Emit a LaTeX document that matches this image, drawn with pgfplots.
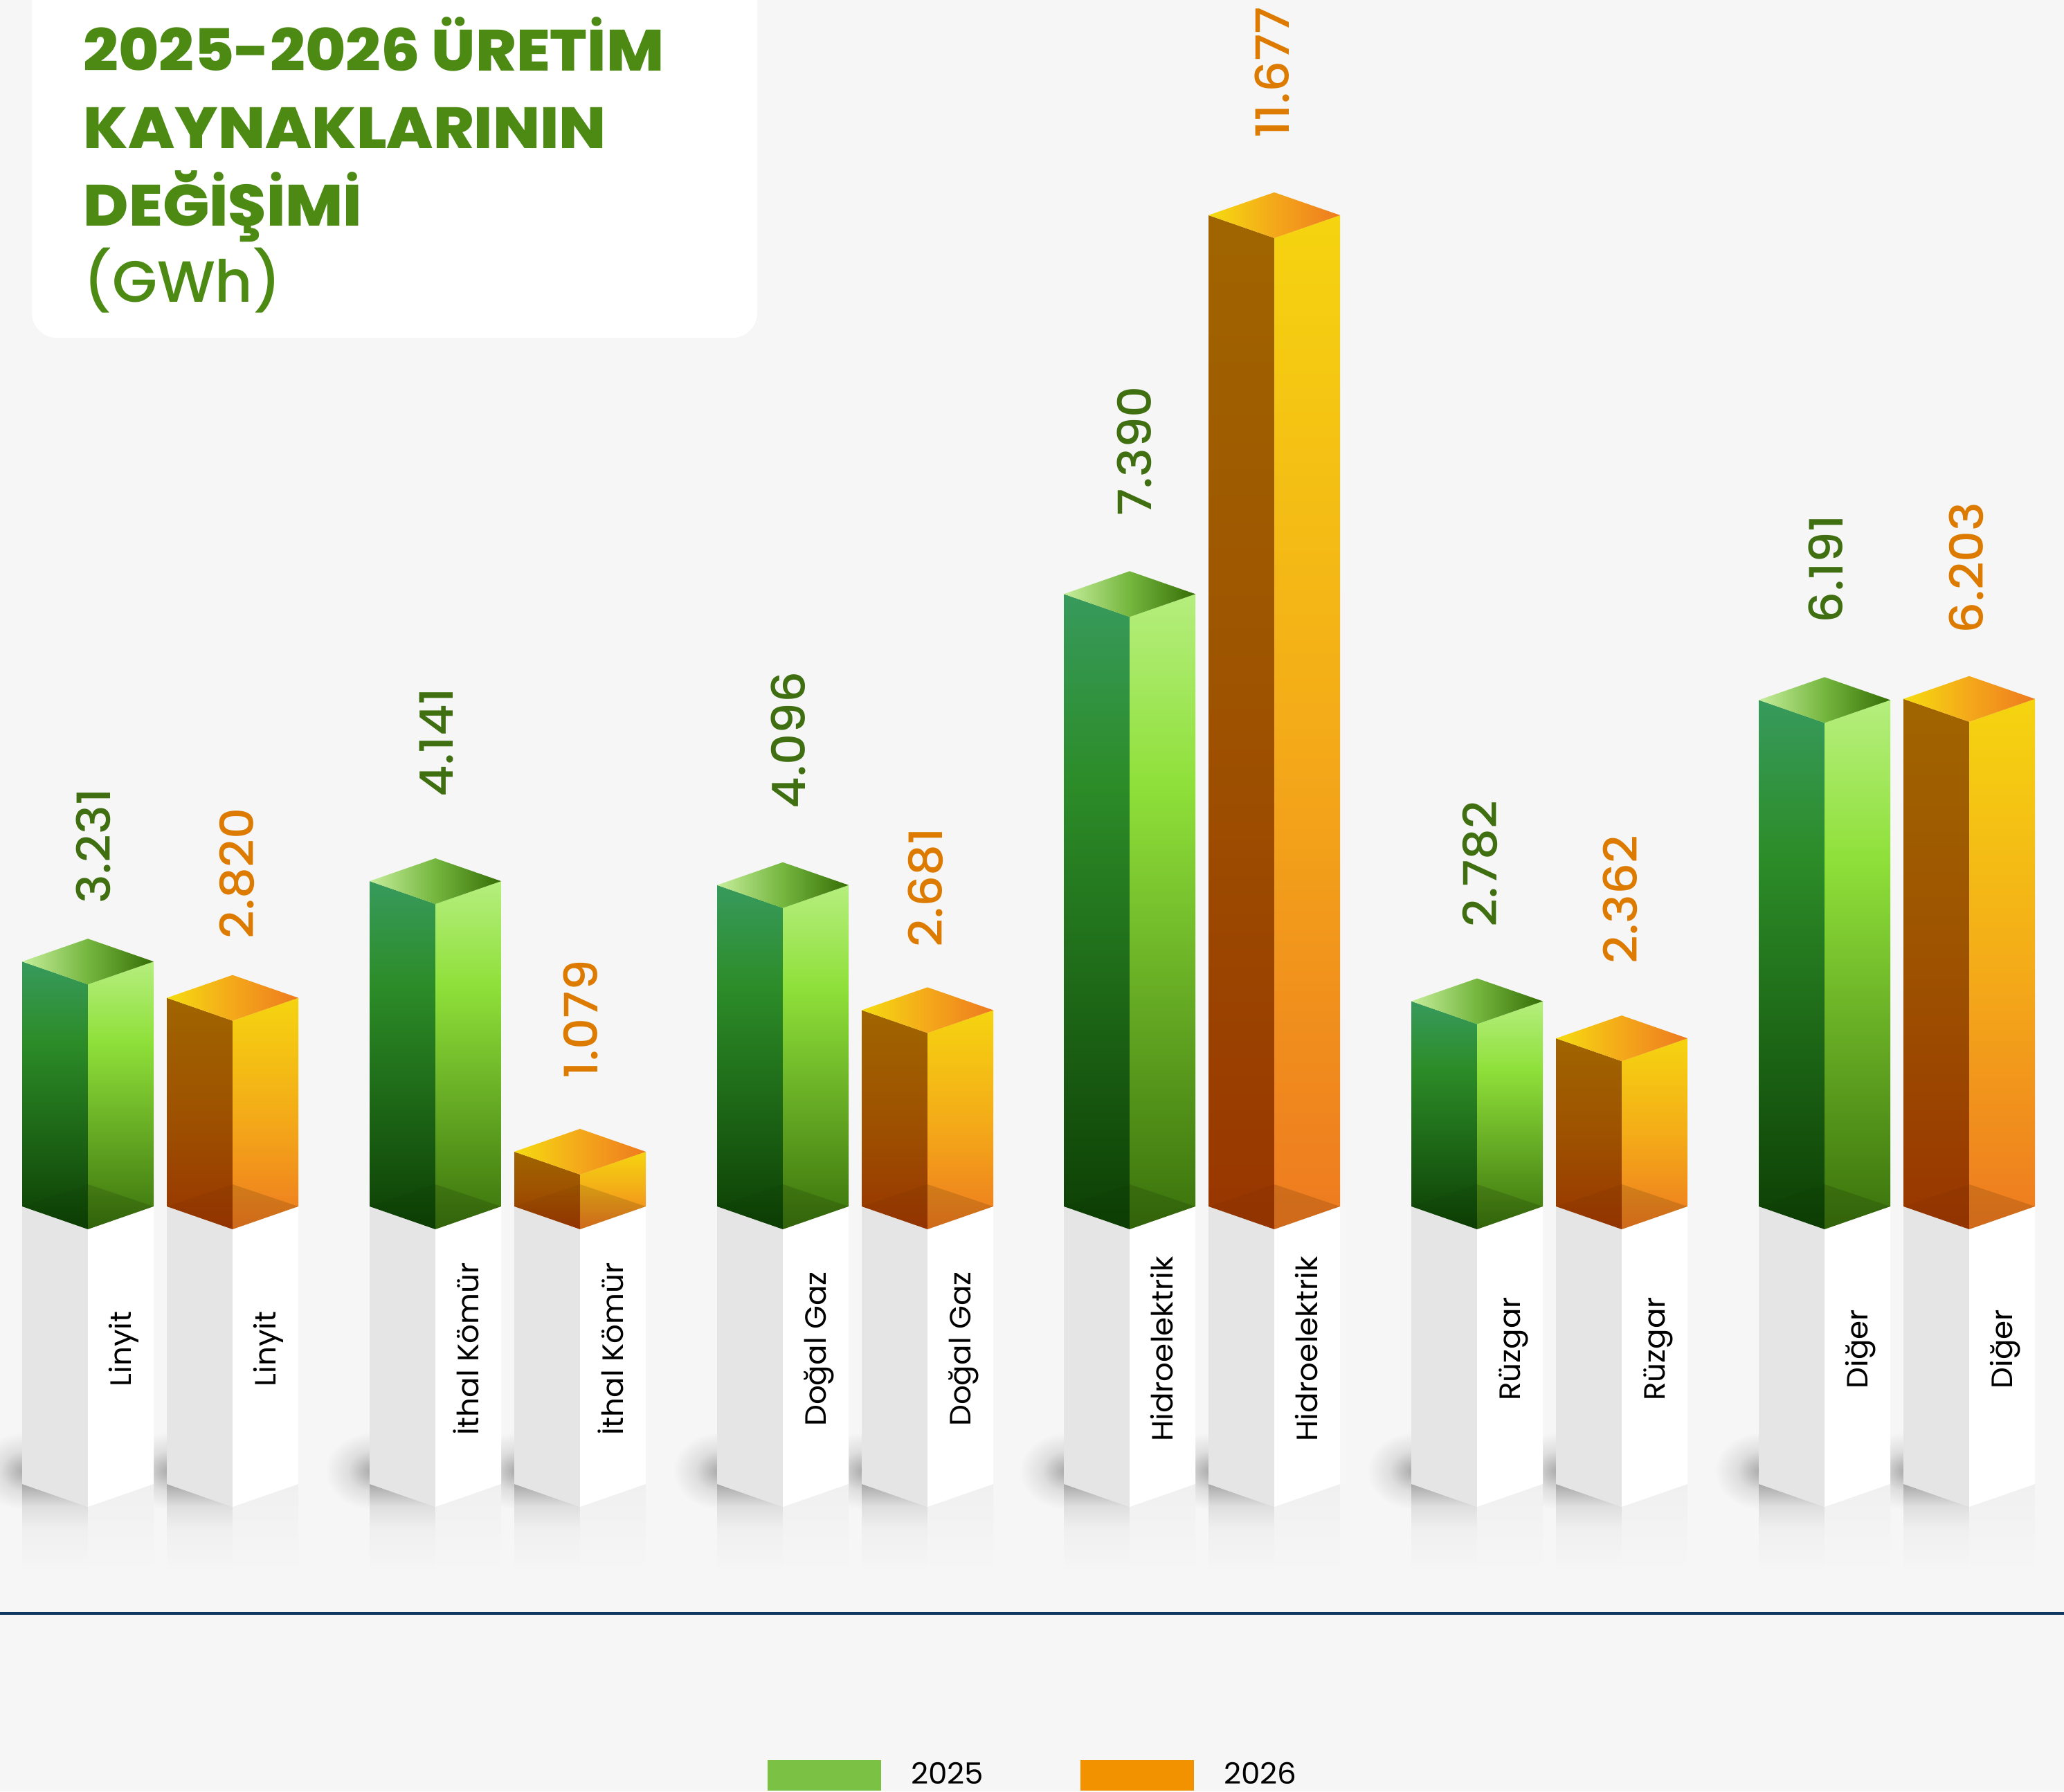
\documentclass[border=0pt]{standalone}
\usepackage{fontspec}
\usepackage{pgfplots}
\pgfplotsset{compat=1.18}
\setmainfont{Poppins}[FakeStretch=1.03]
\newfontfamily\titlef{Poppins ExtraBold}[FakeStretch=1.06]
\newfontfamily\medf{Poppins Medium}[FakeStretch=1.06]
\newfontfamily\unitf{Poppins Medium}
\definecolor{bg}{HTML}{F6F6F6}
\definecolor{titlec}{HTML}{4C8A14}
\definecolor{gnum}{HTML}{3F6F10}
\definecolor{onum}{HTML}{DC7B00}
\definecolor{navy}{HTML}{10375F}
\definecolor{leggreen}{HTML}{7BC143}
\definecolor{legorange}{HTML}{F39200}
% green faces
\definecolor{gla}{HTML}{379A5C}\definecolor{glb}{HTML}{2C8C28}\definecolor{glc}{HTML}{0D3F04}
\definecolor{gra}{HTML}{B5EE7E}\definecolor{grb}{HTML}{8FE03A}\definecolor{grc}{HTML}{3A720C}
\definecolor{gta}{HTML}{C6EE9C}\definecolor{gtb}{HTML}{74B63E}\definecolor{gtc}{HTML}{356E06}
% orange faces
\definecolor{ola}{HTML}{A06500}\definecolor{olb}{HTML}{9E5200}\definecolor{olc}{HTML}{983600}
\definecolor{ora}{HTML}{F5D410}\definecolor{orb}{HTML}{F4AC18}\definecolor{orc}{HTML}{EE7A20}
\definecolor{ota}{HTML}{F5DC10}\definecolor{otb}{HTML}{F4A81A}\definecolor{otc}{HTML}{EE7A20}
\definecolor{shd}{HTML}{A8A8A8}\definecolor{shb}{HTML}{BCBCBC}\definecolor{shc}{HTML}{DEDEDE}
\definecolor{sa}{HTML}{DFDFDF}\definecolor{sb}{HTML}{EFEFEF}\definecolor{sc}{HTML}{F0F0F0}
\pgfdeclareverticalshading{gl}{100bp}{color(0bp)=(glc);color(25bp)=(glc);color(60bp)=(glb);color(75bp)=(gla);color(100bp)=(gla)}
\pgfdeclareverticalshading{gr}{100bp}{color(0bp)=(grc);color(25bp)=(grc);color(60bp)=(grb);color(75bp)=(gra);color(100bp)=(gra)}
\pgfdeclarehorizontalshading{gt}{100bp}{color(0bp)=(gta);color(25bp)=(gta);color(50bp)=(gtb);color(75bp)=(gtc);color(100bp)=(gtc)}
\pgfdeclareverticalshading{ol}{100bp}{color(0bp)=(olc);color(25bp)=(olc);color(50bp)=(olb);color(75bp)=(ola);color(100bp)=(ola)}
\pgfdeclareverticalshading{or}{100bp}{color(0bp)=(orc);color(25bp)=(orc);color(50bp)=(orb);color(75bp)=(ora);color(100bp)=(ora)}
\pgfdeclarehorizontalshading{ot}{100bp}{color(0bp)=(ota);color(25bp)=(ota);color(50bp)=(otb);color(75bp)=(otc);color(100bp)=(otc)}
\pgfdeclareradialshading{softr}{\pgfpointorigin}{color(0bp)=(shd);color(5bp)=(shb);color(13bp)=(shc);color(25bp)=(bg);color(50bp)=(bg)}
\pgfdeclareverticalshading{refll}{100bp}{color(0bp)=(bg);color(25bp)=(bg);color(50bp)=(sb);color(62.5bp)=(sa);color(75bp)=(shd);color(100bp)=(shd)}
\pgfdeclareverticalshading{reflr}{100bp}{color(0bp)=(bg);color(25bp)=(bg);color(75bp)=(sc);color(100bp)=(sc)}
\pgfplotsset{swatchg/.style={legend image code/.code={\path[draw=none,fill=leggreen] (0pt,-5.5pt) rectangle (41pt,5.5pt);}},
  swatcho/.style={legend image code/.code={\path[draw=none,fill=legorange] (0pt,-5.5pt) rectangle (41pt,5.5pt);}}}
% pedestal: #1 left edge in pixels
\newcommand\soft[1]{\shade[shading=softr] (axis cs:{#1+4},2125) ellipse [x radius=17pt,y radius=14pt];}
\newcommand\refl[1]{%
  \pgfmathsetmacro\xc{#1+95}\pgfmathsetmacro\xr{#1+190}%
  \addplot[draw=none,shading=refll,forget plot] coordinates {(#1,2144) (\xc,2177) (\xc,2272) (#1,2272)} -- cycle;
  \addplot[draw=none,shading=reflr,forget plot] coordinates {(\xc,2177) (\xr,2144) (\xr,2272) (\xc,2272)} -- cycle;}
\newcommand\ped[2]{%
  \pgfmathsetmacro\xc{#1+95}\pgfmathsetmacro\xr{#1+190}%
  \addplot[draw=none,fill=black!10!white,forget plot] coordinates {(#1,1740) (\xc,1740) (\xc,2177) (#1,2144)} -- cycle;
  \addplot[draw=none,fill=white,forget plot] coordinates {(\xc,1740) (\xr,1740) (\xr,2144) (\xc,2177)} -- cycle;
  \node[rotate=90,anchor=base,inner sep=0pt,font=\fontsize{10.6}{12}\selectfont] at (axis cs:{#1+157},1949) {#2};}
% 3D bar: #1 left edge in pixels, #2 value in GWh, #3 prefix of the shadings
\newcommand\tdbar[3]{%
  \pgfmathsetmacro\xc{#1+95}\pgfmathsetmacro\xr{#1+190}%
  \pgfmathsetmacro\yf{#2-258.5}\pgfmathsetmacro\yb{#2+258.5}%
  \addplot[draw=none,shading=#3l,forget plot] coordinates {(#1,#2) (\xc,\yf) (\xc,201.5) (#1,460)} -- cycle;
  \addplot[draw=none,shading=#3r,forget plot] coordinates {(\xc,\yf) (\xr,#2) (\xr,460) (\xc,201.5)} -- cycle;
  \addplot[draw=none,shading=#3t,forget plot] coordinates {(#1,#2) (\xc,\yb) (\xr,#2) (\xc,\yf)} -- cycle;
  \addplot[draw=none,fill=black,fill opacity=0.04,forget plot] coordinates {(#1,460) (\xc,710) (\xc,201.5)} -- cycle;
  \addplot[draw=none,fill=black,fill opacity=0.13,forget plot] coordinates {(\xc,710) (\xr,460) (\xc,201.5)} -- cycle;}
\newcommand\val[4]{\node[rotate=90,anchor=west,inner sep=0pt,text=#4,xshift=-1.2pt,font=\fontsize{16.6}{20}\selectfont\medf] at (axis cs:#1,#2) {#3};}
\begin{document}
\begin{tikzpicture}
\useasboundingbox (0,0) rectangle (745.5pt,647pt);
\clip (0,0) rectangle (745.5pt,647pt);
\fill[bg] (0,0) rectangle (745.5pt,647pt);
\begin{axis}[at={(0,0)},anchor=south west,scale only axis,width=745.5pt,height=647pt,
  xmin=0,xmax=2982,ymin=0,ymax=2588,y dir=reverse,axis lines=none,clip=false]
\fill[white,rounded corners=9pt] (axis cs:46,-100) rectangle (axis cs:1094,488);
\node[anchor=base west,inner sep=0pt,text=titlec,font=\fontsize{21}{24}\selectfont\titlef] at (axis cs:120,103) {2025-2026 ÜRETİM};
\node[anchor=base west,inner sep=0pt,text=titlec,font=\fontsize{21}{24}\selectfont\titlef] at (axis cs:120,215) {KAYNAKLARININ};
\node[anchor=base west,inner sep=0pt,text=titlec,font=\fontsize{21}{24}\selectfont\titlef] at (axis cs:120,327) {DEĞİŞİMİ};
\node[anchor=base west,inner sep=0pt,text=titlec,font=\fontsize{21}{24}\selectfont\unitf] at (axis cs:120,437) {(GWh)};
\soft{32}\soft{241}\soft{534}\soft{743}\soft{1036}\soft{1245}\soft{1537}\soft{1746}\soft{2039}\soft{2248}\soft{2541}\soft{2750}
\refl{32}\refl{241}\refl{534}\refl{743}\refl{1036}\refl{1245}\refl{1537}\refl{1746}\refl{2039}\refl{2248}\refl{2541}\refl{2750}
\ped{32}{Linyit}\ped{241}{Linyit}\ped{534}{İthal Kömür}\ped{743}{İthal Kömür}
\ped{1036}{Doğal Gaz}\ped{1245}{Doğal Gaz}\ped{1537}{Hidroelektrik}\ped{1746}{Hidroelektrik}
\ped{2039}{Rüzgar}\ped{2248}{Rüzgar}\ped{2541}{Diğer}\ped{2750}{Diğer}
\addplot[navy,line width=0.8pt,forget plot] coordinates {(0,2331) (2982,2331)};
\val{135}{1301}{3.231}{gnum}\val{342}{1352}{2.820}{onum}
\val{631}{1147}{4.141}{gnum}\val{839}{1554}{1.079}{onum}
\val{1139}{1164}{4.096}{gnum}\val{1337}{1364}{2.681}{onum}
\val{1639}{742}{7.390}{gnum}\val{1838}{196}{11.677}{onum}
\val{2138}{1335}{2.782}{gnum}\val{2341}{1388}{2.362}{onum}
\val{2638}{896}{6.191}{gnum}\val{2841}{911}{6.203}{onum}
\end{axis}
\begin{axis}[at={(0,0)},anchor=south west,scale only axis,width=745.5pt,height=647pt,
  xmin=0,xmax=2982,ymin=-6159,ymax=14113,axis lines=none,clip=false,
  legend style={at={(axis cs:1108,-6159)},anchor=south west,yshift=-1.15pt,draw=none,fill=none,inner sep=0pt,
    font=\fontsize{10.6}{11}\selectfont,legend columns=2,
    /tikz/every odd column/.append style={column sep=8.8pt},
    /tikz/every even column/.append style={column sep=33pt}},
  legend cell align=left]
\tdbar{32}{3231}{g}\tdbar{241}{2820}{o}
\tdbar{534}{4141}{g}\tdbar{743}{1079}{o}
\tdbar{1036}{4096}{g}\tdbar{1245}{2681}{o}
\tdbar{1537}{7390}{g}\tdbar{1746}{11677}{o}
\tdbar{2039}{2782}{g}\tdbar{2248}{2362}{o}
\tdbar{2541}{6191}{g}\tdbar{2750}{6203}{o}
\addlegendimage{swatchg}
\addlegendentry{2025}
\addlegendimage{swatcho}
\addlegendentry{2026}
\end{axis}
\end{tikzpicture}
\end{document}
